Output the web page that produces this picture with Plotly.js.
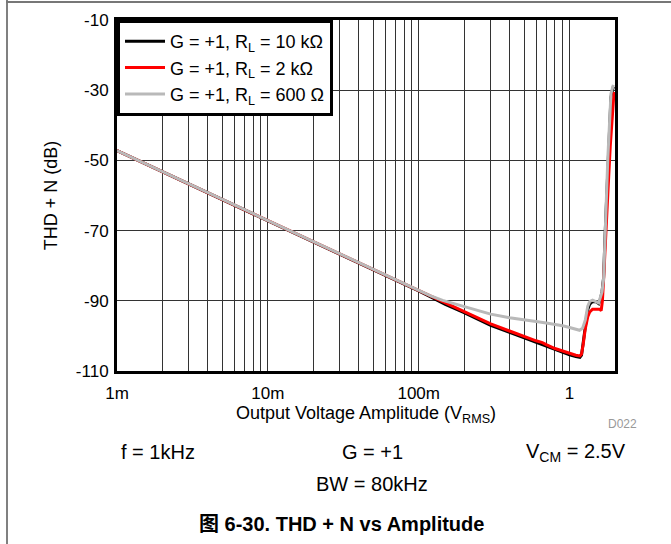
<!DOCTYPE html>
<html>
<head>
<meta charset="utf-8">
<script src="https://cdn.plot.ly/plotly-3.0.1.min.js"></script>
<style>
html,body{margin:0;padding:0;background:#fff;}
#wrap{position:relative;width:671px;height:544px;}
#chart{width:671px;height:544px;}
#frameL{position:absolute;left:6px;top:0;width:2px;height:544px;background:#808080;pointer-events:none;}
#frameT{position:absolute;left:6px;top:1px;width:665px;height:2px;background:#777;pointer-events:none;}
</style>
</head>
<body>
<div id="wrap"><div id="chart"></div><div id="frameL"></div><div id="frameT"></div></div>
<script>
// Data
const x10k = [0.001,0.002,0.005,0.01,0.02,0.05,0.1,0.12,0.15,0.2,0.3,0.4,0.5,0.6,0.7,0.8,0.9,1.0,1.1,1.17,1.2,1.23,1.27,1.32,1.36,1.42,1.5,1.56,1.6,1.64,1.68,1.72,1.79,1.88,1.95];
const y10k = [-47.2,-53.2,-61.2,-67.2,-73.2,-81.2,-87.2,-88.9,-91.0,-93.4,-97.0,-99.0,-100.6,-101.8,-103.0,-104.0,-104.8,-105.4,-105.9,-106.1,-105.5,-102.5,-97.5,-92.5,-91.0,-90.2,-90.3,-90.8,-89.5,-87.5,-83.5,-71,-51,-32,-29];

const x2k = [0.001,0.002,0.005,0.01,0.02,0.05,0.1,0.12,0.15,0.2,0.3,0.4,0.5,0.6,0.66,0.7,0.8,0.9,1.0,1.1,1.17,1.2,1.23,1.27,1.32,1.36,1.42,1.5,1.58,1.62,1.65,1.68,1.72,1.76,1.8,1.86,1.92,1.97];
const y2k = [-47.2,-53.2,-61.2,-67.2,-73.2,-81.2,-87.2,-88.8,-90.8,-93.2,-96.6,-98.6,-100.2,-101.4,-101.9,-102.5,-103.6,-104.3,-105.0,-105.5,-105.7,-105.2,-102.5,-98,-94.5,-93.2,-92.4,-92.3,-92.4,-92.8,-90,-84,-74,-65,-58,-46,-36,-30.5];

const x600 = [0.001,0.002,0.005,0.01,0.02,0.05,0.1,0.12,0.144,0.2,0.3,0.4,0.5,0.6,0.7,0.8,0.9,1.0,1.1,1.165,1.22,1.27,1.32,1.36,1.42,1.5,1.56,1.6,1.64,1.68,1.72,1.79,1.88,1.95];
const y600 = [-47.2,-53.2,-61.2,-67.2,-73.2,-81.2,-87.2,-88.6,-89.9,-91.6,-93.8,-94.8,-95.5,-95.9,-96.3,-96.7,-97.1,-97.6,-98.1,-98.4,-97.8,-95.5,-91.5,-90.2,-89.8,-90.2,-90.6,-89.0,-87.5,-83.8,-70,-50,-31,-28.5];

const seriesNames = ["G = +1, R<sub>L</sub> = 10 kΩ","G = +1, R<sub>L</sub> = 2 kΩ","G = +1, R<sub>L</sub> = 600 Ω"];
const seriesColors = ["#000000","#ff0000","#b9b9b9"];

const decadeVals = [0.001,0.01,0.1,1];
const decadeLabels = ["1m","10m","100m","1"];
const yTicks = [-10,-30,-50,-70,-90,-110];
const yTickLabels = ["-10","-30","-50","-70","-90","-110"];

// build log grid ticks (1..9 per decade) from decades
const xTickVals = [], xTickText = [];
decadeVals.forEach((d,i)=>{
  for(let m=1;m<=9;m++){
    const v = d*m;
    if (v>2.0001) break;
    xTickVals.push(v);
    xTickText.push(m===1 ? decadeLabels[i] : "");
  }
});
xTickVals.push(2); xTickText.push("");

const font = "Liberation Sans, Arial, Helvetica, sans-serif";

const traces = [
  {x:x10k, y:y10k, name:seriesNames[0], mode:"lines", line:{color:seriesColors[0], width:3}},
  {x:x2k, y:y2k, name:seriesNames[1], mode:"lines", line:{color:seriesColors[1], width:3}},
  {x:x600, y:y600, name:seriesNames[2], mode:"lines", line:{color:seriesColors[2], width:3}}
];

const layout = {
  width:671, height:544,
  margin:{l:117, r:56, t:20, b:173},
  paper_bgcolor:"#fff", plot_bgcolor:"#fff",
  showlegend:true,
  hovermode:false,
  font:{family:font, size:17, color:"#000"},
  legend:{x:0, y:1, xanchor:"left", yanchor:"top", bgcolor:"#fff", bordercolor:"#000", borderwidth:3,
          font:{family:font, size:18, color:"#000"}, tracegroupgap:0, itemwidth:40},
  xaxis:{type:"log", range:[Math.log10(0.001), Math.log10(2)], tickmode:"array", tickvals:xTickVals, ticktext:xTickText,
         showgrid:true, gridcolor:"#333", gridwidth:1, showline:true, linecolor:"#000", linewidth:3, mirror:true,
         ticks:"", zeroline:false, tickfont:{family:font, size:17}, ticklabelstandoff:5,
         title:{text:"Output Voltage Amplitude (V<sub>RMS</sub>)", font:{family:font, size:18}, standoff:2}},
  yaxis:{range:[-110,-10], tickmode:"array", tickvals:yTicks, ticktext:yTickLabels, showgrid:true, gridcolor:"#333", gridwidth:1,
         showline:true, linecolor:"#000", linewidth:3, mirror:true, ticks:"", zeroline:false,
         tickfont:{family:font, size:17}, ticklabelstandoff:2,
         title:{text:"THD + N (dB)", font:{family:font, size:18}, standoff:14}},
  annotations:[
    {xref:"paper", yref:"paper", x:(622-117)/498, y:-(424-371)/351, text:"D022", showarrow:false, font:{family:font, size:12, color:"#999"}, xanchor:"center", yanchor:"middle"},
    {xref:"paper", yref:"paper", x:(158-117)/498, y:-(452-371)/351, text:"f = 1kHz", showarrow:false, font:{family:font, size:20}, xanchor:"center", yanchor:"middle"},
    {xref:"paper", yref:"paper", x:(372-117)/498, y:-(452-371)/351, text:"G = +1", showarrow:false, font:{family:font, size:20}, xanchor:"center", yanchor:"middle"},
    {xref:"paper", yref:"paper", x:(576-117)/498, y:-(452-371)/351, text:"V<sub>CM</sub> = 2.5V", showarrow:false, font:{family:font, size:20}, xanchor:"center", yanchor:"middle"},
    {xref:"paper", yref:"paper", x:(372-117)/498, y:-(484-371)/351, text:"BW = 80kHz", showarrow:false, font:{family:font, size:20}, xanchor:"center", yanchor:"middle"},
    {xref:"paper", yref:"paper", x:(341-117)/498, y:-(524-371)/351, text:"<b>图 6-30. THD + N vs Amplitude</b>", showarrow:false, font:{family:"Liberation Sans, Noto Sans CJK SC, sans-serif", size:20}, xanchor:"center", yanchor:"middle"}
  ]
};

Plotly.newPlot("chart", traces, layout, {displayModeBar:false, staticPlot:true});
</script>
</body>
</html>
